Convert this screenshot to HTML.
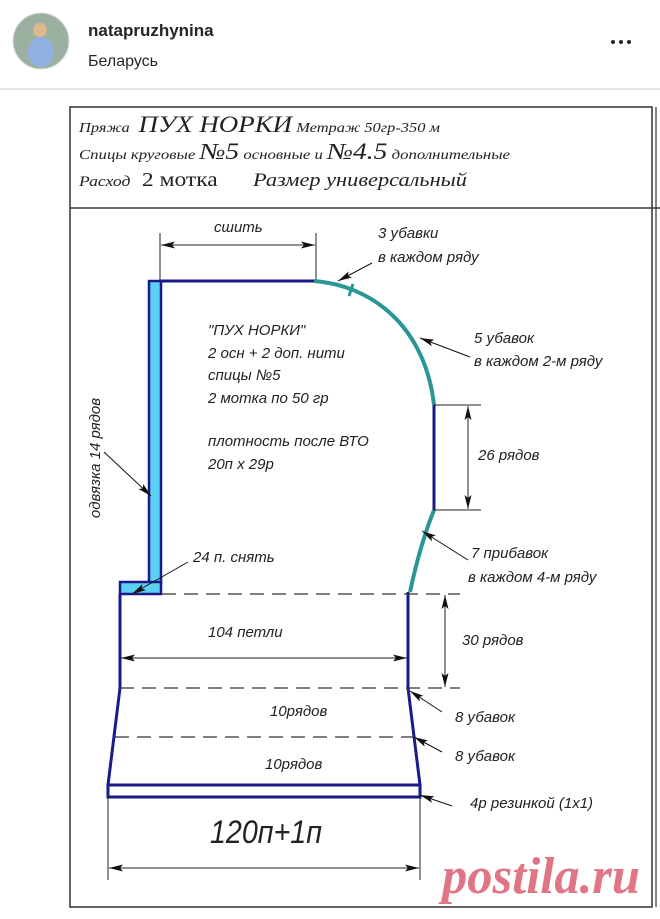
<!DOCTYPE html>
<html><head><meta charset="utf-8"><style>
html,body{margin:0;padding:0;background:#fff;width:660px;height:919px;overflow:hidden}
svg{display:block}
.s{font-family:"Liberation Serif","DejaVu Serif",serif;font-style:italic;fill:#222}
.a{font-family:"Liberation Sans","DejaVu Sans",sans-serif;font-style:italic;fill:#222;font-size:15px}
</style></head><body>
<svg width="660" height="919" viewBox="0 0 660 919" xmlns="http://www.w3.org/2000/svg">
<defs>
<marker id="ar" viewBox="0 0 14 7" refX="14" refY="3.5" markerWidth="14" markerHeight="7" markerUnits="userSpaceOnUse" orient="auto-start-reverse"><path d="M0,0 L14,3.5 L0,7 L3,3.5 z" fill="#111"/></marker>
</defs>
<!-- header -->
<circle cx="41" cy="41" r="28" fill="#9bb0a0"/>
<circle cx="41" cy="41" r="28" fill="none" stroke="#ddd" stroke-width="1"/>
<ellipse cx="41" cy="52" rx="13" ry="15" fill="#8fb0e0"/>
<circle cx="40" cy="30" r="7" fill="#e0b890"/>
<text x="88" y="36" font-family="Liberation Sans,sans-serif" font-weight="bold" font-size="17" fill="#262626">natapruzhynina</text>
<text x="88" y="66" font-family="Liberation Sans,sans-serif" font-size="16" fill="#262626">Беларусь</text>
<circle cx="613" cy="42" r="2" fill="#262626"/><circle cx="621" cy="42" r="2" fill="#262626"/><circle cx="629" cy="42" r="2" fill="#262626"/>
<line x1="0" y1="89" x2="660" y2="89" stroke="#ddd" stroke-width="1.5"/>
<!-- frame -->
<rect x="70" y="107" width="582" height="800" fill="none" stroke="#333" stroke-width="1.5"/>
<line x1="656" y1="107" x2="656" y2="907" stroke="#333" stroke-width="1.2"/>
<line x1="70" y1="208" x2="660" y2="208" stroke="#333" stroke-width="1.5"/>
<text class="s" x="79" y="132" font-size="14" textLength="361" lengthAdjust="spacingAndGlyphs">Пряжа <tspan font-size="23" dx="4">ПУХ НОРКИ</tspan> <tspan font-size="14">Метраж 50гр-350 м</tspan></text>
<text class="s" x="79" y="159" font-size="14" textLength="431" lengthAdjust="spacingAndGlyphs">Спицы  круговые <tspan font-size="23">№5</tspan> основные и <tspan font-size="23">№4.5</tspan> дополнительные</text>
<text class="s" x="79" y="186" font-size="15" textLength="388" lengthAdjust="spacingAndGlyphs">Расход <tspan font-style="normal" font-size="20" dx="6">2 мотка</tspan><tspan font-size="19" dx="30">Размер  универсальный</tspan></text>
<!-- сшить -->
<line x1="160" y1="233" x2="160" y2="280" stroke="#222" stroke-width="1"/>
<line x1="316" y1="233" x2="316" y2="280" stroke="#222" stroke-width="1"/>
<line x1="161" y1="245" x2="315" y2="245" stroke="#222" stroke-width="1" marker-start="url(#ar)" marker-end="url(#ar)"/>
<text class="a" x="214" y="232">сшить</text>
<!-- left strip -->
<rect x="149" y="281" width="12" height="302" fill="#5cd0f5" stroke="#1a1a8a" stroke-width="2.5"/>
<rect x="120" y="582" width="41" height="12" fill="#5cd0f5" stroke="#1a1a8a" stroke-width="2.5"/>
<line x1="160" y1="281" x2="316" y2="281" stroke="#1a1a8a" stroke-width="3"/>
<!-- curve -->
<path d="M314,281 C370,285 425,325 434,405" fill="none" stroke="#2a9696" stroke-width="4"/>
<line x1="349" y1="296" x2="353" y2="284" stroke="#2a9696" stroke-width="3"/>
<line x1="434" y1="405" x2="434" y2="510" stroke="#1a1a8a" stroke-width="3"/>
<path d="M434,510 Q420,545 410,592" fill="none" stroke="#2a9696" stroke-width="4"/>
<!-- body -->
<line x1="120" y1="594" x2="120" y2="688" stroke="#1a1a8a" stroke-width="3"/>
<line x1="408" y1="592" x2="408" y2="688" stroke="#1a1a8a" stroke-width="3"/>
<path d="M120,688 L108,785 M408,688 L420,785" stroke="#1a1a8a" stroke-width="3" fill="none"/>
<rect x="108" y="785" width="312" height="12" fill="none" stroke="#1a1a8a" stroke-width="3"/>
<g stroke="#333" stroke-width="1.2" stroke-dasharray="14,8">
<line x1="162" y1="594" x2="460" y2="594"/>
<line x1="120" y1="688" x2="460" y2="688"/>
<line x1="115" y1="737" x2="414" y2="737"/>
</g>
<!-- dims -->
<line x1="434" y1="405" x2="481" y2="405" stroke="#222"/>
<line x1="434" y1="510" x2="481" y2="510" stroke="#222"/>
<line x1="468" y1="406" x2="468" y2="509" stroke="#222" marker-start="url(#ar)" marker-end="url(#ar)"/>
<line x1="445" y1="595" x2="445" y2="687" stroke="#222" marker-start="url(#ar)" marker-end="url(#ar)"/>
<line x1="121" y1="658" x2="407" y2="658" stroke="#222" marker-start="url(#ar)" marker-end="url(#ar)"/>
<line x1="108" y1="797" x2="108" y2="880" stroke="#222"/>
<line x1="420" y1="797" x2="420" y2="880" stroke="#222"/>
<line x1="109" y1="868" x2="419" y2="868" stroke="#222" marker-start="url(#ar)" marker-end="url(#ar)"/>
<!-- leaders -->
<g stroke="#111" stroke-width="1" marker-end="url(#ar)">
<line x1="372" y1="263" x2="338" y2="281"/>
<line x1="470" y1="357" x2="420" y2="338"/>
<line x1="468" y1="560" x2="422" y2="531"/>
<line x1="442" y1="712" x2="410" y2="691"/>
<line x1="442" y1="752" x2="414" y2="737"/>
<line x1="452" y1="806" x2="420" y2="795"/>
<line x1="188" y1="562" x2="132" y2="594"/>
<line x1="104" y1="452" x2="151" y2="496"/>
</g>
<!-- labels -->
<text class="a" x="378" y="238">3 убавки</text>
<text class="a" x="378" y="262">в каждом ряду</text>
<text class="a" x="474" y="343">5 убавок</text>
<text class="a" x="474" y="366">в каждом 2-м ряду</text>
<text class="a" x="478" y="460">26 рядов</text>
<text class="a" x="471" y="558">7 прибавок</text>
<text class="a" x="468" y="582">в каждом 4-м ряду</text>
<text class="a" x="462" y="645">30 рядов</text>
<text class="a" x="455" y="722">8 убавок</text>
<text class="a" x="455" y="761">8 убавок</text>
<text class="a" x="470" y="808">4р резинкой (1х1)</text>
<text class="a" x="193" y="562">24 п. снять</text>
<text class="a" x="208" y="637">104 петли</text>
<text class="a" x="270" y="716">10рядов</text>
<text class="a" x="265" y="769">10рядов</text>
<text class="a" x="210" y="843" style="font-size:32px" textLength="112" lengthAdjust="spacingAndGlyphs">120п+1п</text>
<text class="a" transform="translate(100,458) rotate(-90)" text-anchor="middle">одвязка 14 рядов</text>
<g class="a" fill="#3a2a4a">
<text x="208" y="335">"ПУХ НОРКИ"</text>
<text x="208" y="358">2 осн + 2 доп. нити</text>
<text x="208" y="380">спицы №5</text>
<text x="208" y="403">2 мотка по 50 гр</text>
<text x="208" y="446">плотность после ВТО</text>
<text x="208" y="469">20п х 29р</text>
</g>
<!-- watermark -->
<text x="442" y="893" font-family="Liberation Serif,serif" font-weight="bold" font-style="italic" font-size="52" fill="#e07585" textLength="198" lengthAdjust="spacingAndGlyphs">postila.ru</text>
</svg>
</body></html>
